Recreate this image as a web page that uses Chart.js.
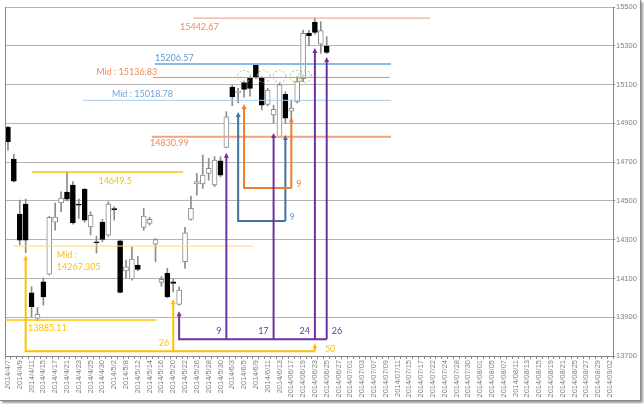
<!DOCTYPE html>
<html>
<head>
<meta charset="utf-8">
<script src="https://cdn.jsdelivr.net/npm/chart.js@4.4.1/dist/chart.umd.min.js"></script>
<style>
  body { margin: 0; background: #fff; }
  #frame { position: absolute; left: 0; top: 0; width: 640px; height: 400px;
           border-right: 1px solid #8a8a8a; border-bottom: 1px solid #8a8a8a;
           box-shadow: 2px 2px 2px rgba(0,0,0,0.4); }
</style>
</head>
<body>
<div id="frame"><canvas id="candleChart" width="640" height="400"></canvas></div>
<script>
// trading days, 2014/4/7 - 2014/9/2
const dates = [
  '2014/4/7','2014/4/8','2014/4/9','2014/4/10','2014/4/11','2014/4/14','2014/4/15','2014/4/16','2014/4/17','2014/4/18',
  '2014/4/21','2014/4/22','2014/4/23','2014/4/24','2014/4/25','2014/4/28','2014/4/30',
  '2014/5/1','2014/5/2','2014/5/7','2014/5/8','2014/5/9','2014/5/12','2014/5/13','2014/5/14','2014/5/15','2014/5/16',
  '2014/5/19','2014/5/20','2014/5/21','2014/5/22','2014/5/23','2014/5/26','2014/5/27','2014/5/28','2014/5/29','2014/5/30',
  '2014/6/2','2014/6/3','2014/6/4','2014/6/5','2014/6/6','2014/6/9','2014/6/10','2014/6/11','2014/6/12','2014/6/13',
  '2014/6/16','2014/06/17','2014/06/18','2014/06/19','2014/06/20','2014/06/23','2014/06/24','2014/06/25','2014/06/26','2014/06/27','2014/06/30',
  '2014/07/01','2014/07/02','2014/07/03','2014/07/04','2014/07/07','2014/07/08','2014/07/09','2014/07/10','2014/07/11',
  '2014/07/14','2014/07/15','2014/07/16','2014/07/17','2014/07/18','2014/07/22','2014/07/23','2014/07/24','2014/07/25',
  '2014/07/28','2014/07/29','2014/07/30','2014/07/31',
  '2014/08/01','2014/08/04','2014/08/05','2014/08/06','2014/08/07','2014/08/08','2014/08/11','2014/08/12','2014/08/13',
  '2014/08/14','2014/08/15','2014/08/18','2014/08/19','2014/08/20','2014/08/21','2014/08/22','2014/08/25','2014/08/26',
  '2014/08/27','2014/08/28','2014/08/29','2014/09/01','2014/09/02'
];

const openPrices  = [14879,14716,14432,14483,14026,13895,14083,14122,14390,14489,14545,14582,14482,14559,14366,14288,14389,
  14323,14460,14294,14139,14097,14169,14363,14384,14277,14080,14126,14083,13966,14186,14405,14587,14587,14642,14582,14707,
  14776,15087,15060,15110,15132,15204,15137,14998,14943,14831,15050,14963,15011,15130,15364,15421,15308,15299];
const highPrices  = [14885,14741,14504,14509,14057,13950,14102,14420,14489,14547,14649.5,14599,14510,14565,14444,14318,14405,
  14495,14470,14296,14195,14263,14215,14461,14415,14306,14110,14153,14100,14057,14363,14525,14642,14736,14719,14728,14728,
  14960,15098,15080,15118,15140,15210,15140,15080,14994,15106,15063,15020,15140,15381,15380,15442.67,15424,15347];
const lowPrices   = [14762,14598,14272,14232,13902,13885.11,13962,14118,14349,14444,14500,14380,14410,14390,14324,14231,14290,
  14318,14401,14025,14102,14091,14140,14349,14375,14186,14060,14000,14030,13962,14152,14400,14530,14564,14607,14573,14624,
  14775,14990,15005,15035,15040,15130,14969,14990,14901,14828,14900,14917,15005,15115,15300,15360,15261,15260];
const closePrices = [14805,14602,14298,14298,13954,13915,14005,14415,14416,14515,14509,14386,14478,14401,14425,14284,14301,
  14483,14454,14028,14160,14200,14147,14422,14405,14301,14095,14005,14074,14040,14335,14462,14599,14633,14668,14711,14633,
  14934,15036,15066,15075,15080,15137,14994,15072,14972,15098,14926,14979,15118,15364,15352,15369,15378,15266];

const yTickValues = [13700,13900,14100,14300,14500,14700,14900,15100,15300,15500];

// price levels drawn across the chart
const levelPrices = [15442.67, 15206.57, 15136.83, 15018.78, 14830.99, 14649.5, 14267.305, 13885.11];
const levelTexts  = ['15442.67', '15206.57', 'Mid : 15136.83', 'Mid : 15018.78', '14830.99', '14649.5', 'Mid :|14267.305', '13885.11'];

// day counts (from index, to indices, labels)
const yellowFrom = 3,  yellowTo = [28, 52],          yellowTexts = ['26', '50'];
const purpleFrom = 29, purpleTo = [37, 45, 52, 54],  purpleTexts = ['9', '17', '24', '26'];
const blueFrom = 39,   blueTo = 47,   blueText = '9';
const orangeFrom = 40, orangeTo = 48, orangeText = '9';
const circleDays = [40, 43.3, 46, 48.9, 50.3];

const bodies = openPrices.map((o, i) => [o, closePrices[i]]);
const wicks = lowPrices.map((l, i) => [l, highPrices[i]]);
const isUp = openPrices.map((o, i) => closePrices[i] >= o);

const levelStyle = [
  { from: 31.4, to: 71.5, color: '#f09a74', width: 1,   text: '#ef8a5c', align: 'center', dx: 6,  dy: 9 },
  { from: 24.9, to: 64.9, color: '#8bb9e5', width: 2,   text: '#5b9bd5', align: 'left',   dx: 0,  dy: -6 },
  { from: 24.6, to: 64.7, color: '#f08a58', width: 1,   text: '#ef8a5c', align: 'right',  dx: 4,  dy: -5 },
  { from: 12.7, to: 64.9, color: '#a9cbec', width: 1,   text: '#6fa5d8', align: 'left',   dx: 29, dy: -6 },
  { from: 24.4, to: 64.9, color: '#f4a27c', width: 2,   text: '#ef8a5c', align: 'left',   dx: -2, dy: 6 },
  { from: 4.1,  to: 29.7, color: '#ffc000', width: 1.5, text: '#ffc000', align: 'center', dx: 83, dy: 9 },
  { from: 1.0,  to: 41.5, color: '#ffd966', width: 1,   text: '#ffc000', align: 'left',   dx: 43, dy: 9 },
  { from: -0.5, to: 25.1, color: '#ffc000', width: 1.5, text: '#ffc000', align: 'left',   dx: 23, dy: 8 }
];

const annotate = {
  id: 'annotate',
  afterDatasetsDraw(chart) {
    const { ctx, chartArea: a, scales: { x, y } } = chart;
    const px = i => x.getPixelForValue(i);
    const py = v => y.getPixelForValue(v);
    ctx.save();
    // left frame line
    ctx.strokeStyle = '#868686';
    ctx.lineWidth = 1;
    ctx.beginPath();
    ctx.moveTo(Math.round(a.left) + 0.5, a.top);
    ctx.lineTo(Math.round(a.left) + 0.5, a.bottom);
    ctx.stroke();

    ctx.font = '9px Lato';
    ctx.textBaseline = 'middle';

    levelPrices.forEach((p, k) => {
      const s = levelStyle[k];
      const yy = py(p), x0 = px(s.from), x1 = px(s.to);
      ctx.strokeStyle = s.color;
      ctx.lineWidth = s.width;
      ctx.beginPath();
      ctx.moveTo(x0, yy);
      ctx.lineTo(x1, yy);
      ctx.stroke();
      ctx.fillStyle = s.text;
      ctx.textAlign = s.align;
      levelTexts[k].split('|').forEach((t, j) => {
        ctx.fillText(t, x0 + s.dx, yy + s.dy + j * 12);
      });
    });

    function arrowHead(xx, tip, color) {
      ctx.fillStyle = color;
      ctx.beginPath();
      ctx.moveTo(xx, tip);
      ctx.lineTo(xx - 2.5, tip + 5);
      ctx.lineTo(xx + 2.5, tip + 5);
      ctx.closePath();
      ctx.fill();
    }
    function countPath(from, fromTip, base, ends, color) {
      ctx.strokeStyle = color;
      ctx.lineWidth = 2;
      const xb = py(base);
      ctx.beginPath();
      ctx.moveTo(px(from), py(fromTip) + 4);
      ctx.lineTo(px(from), xb);
      ctx.lineTo(px(ends[ends.length - 1][0]), xb);
      ctx.stroke();
      arrowHead(px(from), py(fromTip), color);
      ends.forEach(([i, tip]) => {
        ctx.beginPath();
        ctx.moveTo(px(i), xb);
        ctx.lineTo(px(i), py(tip) + 4);
        ctx.stroke();
        arrowHead(px(i), py(tip), color);
      });
    }

    // blue and orange boxes
    countPath(blueFrom, 14958, 14396, [[blueTo, 14840]], '#41719c');
    countPath(orangeFrom, 15000, 14566, [[orangeTo, 14932]], '#ed7d31');
    ctx.textAlign = 'left';
    ctx.fillStyle = '#5b9bd5';
    ctx.fillText(blueText, px(blueTo) + 4, py(14396) - 4);
    ctx.fillStyle = '#ed7d31';
    ctx.fillText(orangeText, px(orangeTo) + 5, py(14566) - 4);

    // yellow count
    const yTips = [13993, 13766];
    countPath(yellowFrom, 14220, 13725, yellowTo.map((d, k) => [d, yTips[k]]), '#ffc000');
    ctx.fillStyle = '#ffc000';
    ctx.textAlign = 'right';
    ctx.fillText(yellowTexts[0], px(yellowTo[0]) - 4, py(13725) - 8);
    ctx.textAlign = 'left';
    ctx.fillText(yellowTexts[1], px(yellowTo[1]) + 10, py(13725) - 2);

    // purple count
    const pTips = [14748, 14850, 15288, 15242];
    countPath(purpleFrom, 13931, 13787, purpleTo.map((d, k) => [d, pTips[k]]), '#7030a0');
    ctx.fillStyle = '#7030a0';
    purpleTo.forEach((d, k) => {
      const last = k === purpleTo.length - 1;
      ctx.textAlign = last ? 'left' : 'right';
      ctx.fillText(purpleTexts[k], px(d) + (last ? 5 : -5), py(13787) - 8);
    });

    // dashed circles on the mid line
    ctx.strokeStyle = '#8fc860';
    ctx.lineWidth = 1;
    ctx.setLineDash([2, 2]);
    circleDays.forEach(d => {
      ctx.beginPath();
      ctx.ellipse(px(d), py(levelPrices[2]) - 1, 6.5, 6, 0, 0, Math.PI * 2);
      ctx.stroke();
    });
    ctx.restore();
  }
};

const ctx = document.getElementById('candleChart').getContext('2d');
new Chart(ctx, {
  type: 'bar',
  data: {
    labels: dates,
    datasets: [
      {
        label: 'body',
        data: bodies,
        order: 0,
        grouped: false,
        barThickness: 5,
        minBarLength: 1,
        borderSkipped: false,
        borderWidth: 1,
        backgroundColor: isUp.map(u => u ? '#ffffff' : '#000000'),
        borderColor: isUp.map(u => u ? '#8c8c8c' : '#000000')
      },
      {
        label: 'wick',
        data: wicks,
        order: 1,
        grouped: false,
        barThickness: 1,
        borderWidth: 0,
        backgroundColor: '#8c8c8c'
      }
    ]
  },
  options: {
    responsive: false,
    animation: false,
    layout: { padding: { left: 5, top: 7, right: 0, bottom: 0 } },
    plugins: {
      legend: { display: false },
      tooltip: { enabled: false }
    },
    scales: {
      x: {
        offset: true,
        afterFit: s => { s.height = 44; },
        grid: { drawOnChartArea: false, tickLength: 3, color: '#868686' },
        border: { color: '#868686' },
        ticks: {
          autoSkip: false,
          minRotation: 90,
          maxRotation: 90,
          padding: 1,
          color: '#7f7f7f',
          font: { family: 'Liberation Sans', size: 7.5 },
          callback: (v, i) => i % 2 === 0 ? dates[i] : ''
        }
      },
      y: {
        position: 'right',
        min: 13700,
        max: 15500,
        afterBuildTicks: s => { s.ticks = yTickValues.map(v => ({ value: v })); },
        afterFit: s => { s.width = 27; },
        grid: { color: '#b4b4b4', tickLength: 2, tickColor: '#868686' },
        border: { color: '#868686' },
        ticks: {
          padding: 1,
          color: '#7f7f7f',
          font: { family: 'Liberation Sans', size: 7.5 },
          callback: v => String(v)
        }
      }
    }
  },
  plugins: [annotate]
});
</script>
</body>
</html>
